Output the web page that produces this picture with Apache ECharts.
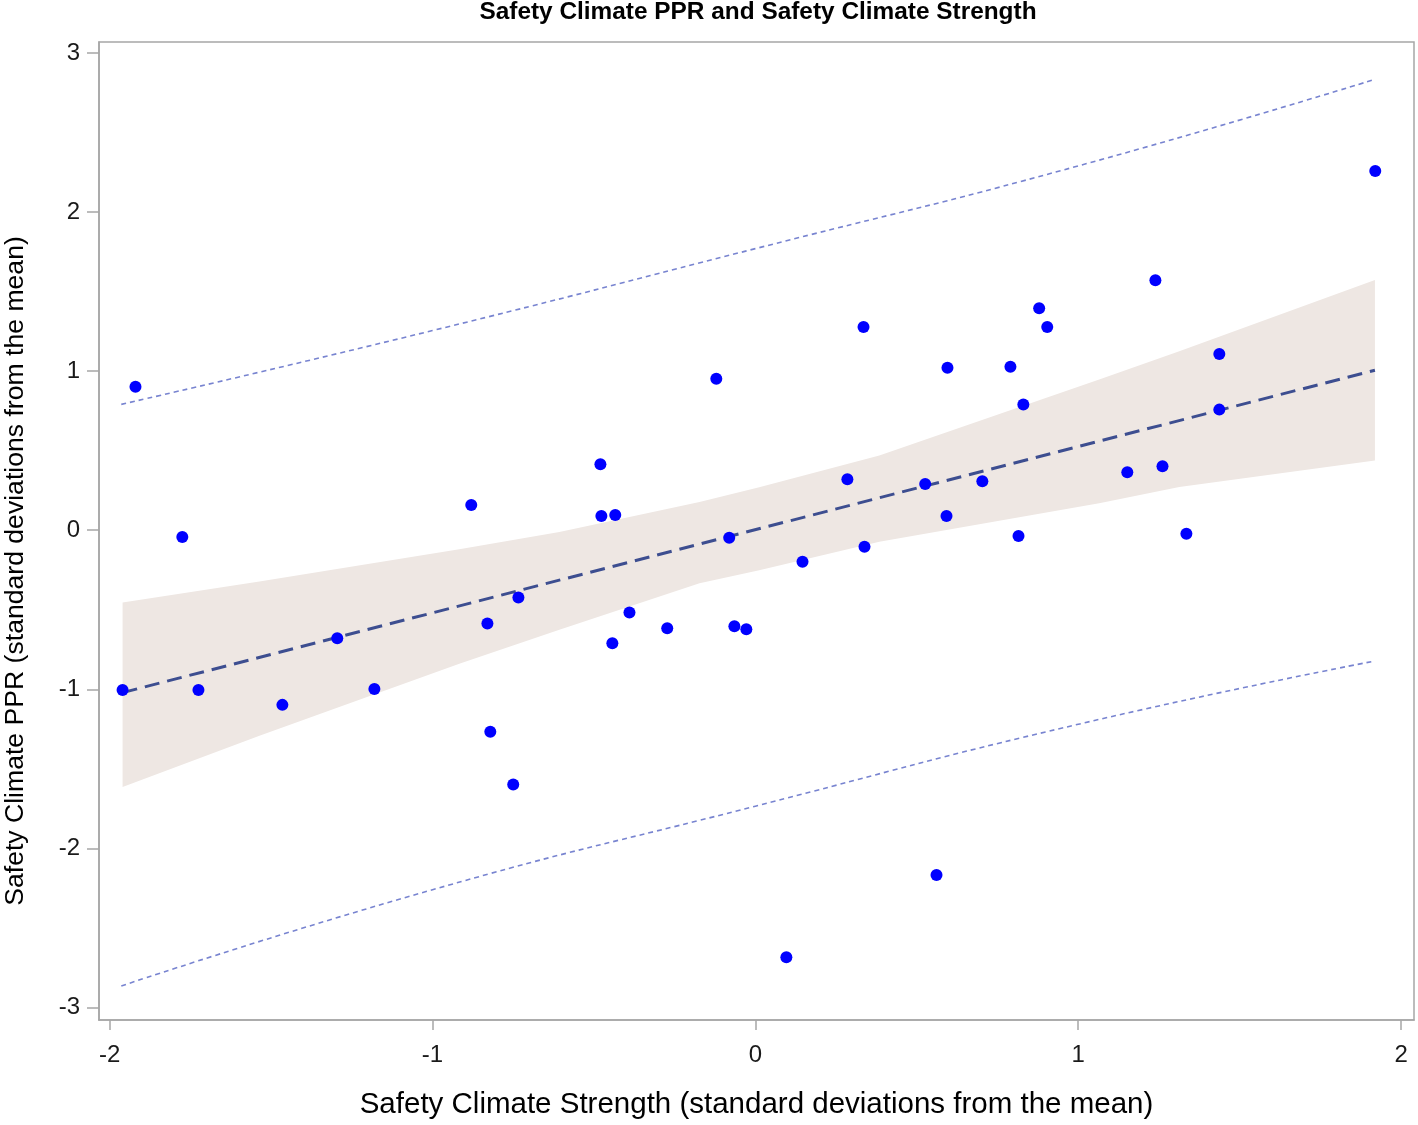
<!DOCTYPE html>
<html>
<head>
<meta charset="utf-8">
<script src="https://cdn.jsdelivr.net/npm/echarts@6/dist/echarts.min.js"></script>
<style>
  html, body { margin: 0; padding: 0; background: #ffffff; }
  #chart { width: 1418px; height: 1125px; }
</style>
</head>
<body>
<div id="chart"></div>
<script>
// ---- Data ----
const pointX = [-1.960, -1.920, -1.775, -1.725, -1.465, -1.295, -1.180, -0.880, -0.830, -0.821,
  -0.750, -0.734, -0.480, -0.477, -0.434, -0.443, -0.390, -0.273, -0.121, -0.081,
  -0.065, -0.028, 0.096, 0.146, 0.285, 0.335, 0.338, 0.526, 0.561, 0.595,
  0.592, 0.703, 0.790, 0.815, 0.830, 0.879, 0.904, 1.152, 1.239, 1.261,
  1.335, 1.437, 1.437, 1.920];
const pointY = [-1.004, 0.902, -0.042, -1.004, -1.098, -0.679, -0.998, 0.158, -0.586, -1.267,
  -1.598, -0.423, 0.414, 0.089, 0.096, -0.711, -0.517, -0.617, 0.952, -0.048,
  -0.604, -0.623, -2.685, -0.198, 0.321, 1.277, -0.104, 0.290, -2.167, 1.021,
  0.090, 0.308, 1.027, -0.036, 0.790, 1.396, 1.277, 0.365, 1.571, 0.402,
  -0.023, 1.108, 0.758, 2.258];

const fitX = [-1.960, 1.919];
const fitY = [-1.021, 1.006];

const bandX     = [-1.960, -1.536, -0.917, -0.607, -0.173, 0.012, 0.384, 1.065, 1.313, 1.919];
const bandLower = [-1.615, -1.292, -0.840, -0.625, -0.334, -0.252, -0.073, 0.170, 0.271, 0.438];
const bandUpper = [-0.455, -0.323, -0.120, -0.011, 0.177, 0.270, 0.469, 0.947, 1.125, 1.573];

const predX     = [-1.964, -1.000, 0.000, 1.000, 1.917];
const predUpper = [0.791, 1.255, 1.770, 2.290, 2.833];
const predLower = [-2.865, -2.260, -1.735, -1.220, -0.823];

const xTicks = [-2, -1, 0, 1, 2];
const yTicks = [-3, -2, -1, 0, 1, 2, 3];

const titleText = 'Safety Climate PPR and Safety Climate Strength';
const xTitle = 'Safety Climate Strength (standard deviations from the mean)';
const yTitle = 'Safety Climate PPR (standard deviations from the mean)';

// ---- Chart ----
const FONT = '"Liberation Sans", Arial, Helvetica, sans-serif';
const AXIS_GRAY = '#a6a6a6';
const chart = echarts.init(document.getElementById('chart'), null, { renderer: 'canvas' });

const zip = (a, b) => a.map((v, i) => [v, b[i]]);

const option = {
  animation: false,
  backgroundColor: '#ffffff',
  textStyle: { fontFamily: FONT },
  title: {
    text: titleText,
    left: 758,
    textAlign: 'center',
    top: 0,
    padding: 0,
    textStyle: { fontFamily: FONT, fontSize: 24.4, fontWeight: 'bold', color: '#000000' }
  },
  grid: {
    left: 99, right: 4, top: 42, bottom: 99,
    show: true, borderColor: AXIS_GRAY, borderWidth: 1.5, backgroundColor: 'transparent'
  },
  xAxis: {
    type: 'value',
    min: -2.033, max: 2.04,
    axisLine: { show: true, onZero: false, lineStyle: { color: AXIS_GRAY, width: 1.5 } },
    axisTick: { show: true, customValues: xTicks, length: 10, lineStyle: { color: AXIS_GRAY, width: 1.5 } },
    axisLabel: { customValues: xTicks, fontSize: 24, color: '#1a1a1a', margin: 23, fontFamily: FONT },
    splitLine: { show: false },
    name: xTitle,
    nameLocation: 'middle',
    nameGap: 70,
    nameTextStyle: { fontSize: 29.5, color: '#000000', fontFamily: FONT }
  },
  yAxis: {
    type: 'value',
    min: -3.079, max: 3.069,
    axisLine: { show: true, onZero: false, lineStyle: { color: AXIS_GRAY, width: 1.5 } },
    axisTick: { show: true, customValues: yTicks, length: 12, lineStyle: { color: AXIS_GRAY, width: 1.5 } },
    axisLabel: { customValues: yTicks, fontSize: 24, color: '#1a1a1a', margin: 19, fontFamily: FONT },
    splitLine: { show: false }
  },
  graphic: [{
    type: 'text',
    x: 16, y: 571,
    rotation: Math.PI / 2,
    style: {
      text: yTitle,
      fontSize: 26.6,
      fontFamily: FONT,
      fill: '#000000',
      align: 'center',
      verticalAlign: 'middle'
    }
  }],
  series: [
    {
      type: 'custom',
      name: 'band',
      silent: true,
      z: 1,
      data: bandX.map((x, i) => [x, bandLower[i], bandUpper[i]]),
      encode: { x: 0, y: [1, 2] },
      renderItem: function (params, api) {
        if (params.dataIndex !== 0) return null;
        const pts = [];
        for (let i = 0; i < bandX.length; i++) pts.push(api.coord([bandX[i], bandUpper[i]]));
        for (let i = bandX.length - 1; i >= 0; i--) pts.push(api.coord([bandX[i], bandLower[i]]));
        return { type: 'polygon', shape: { points: pts, smooth: 0 }, style: { fill: '#eee7e3' } };
      }
    },
    {
      type: 'line', name: 'upper prediction', z: 2, silent: true,
      data: zip(predX, predUpper), showSymbol: false, smooth: true,
      lineStyle: { color: '#7884d0', width: 1.6, type: [5, 4] }
    },
    {
      type: 'line', name: 'lower prediction', z: 2, silent: true,
      data: zip(predX, predLower), showSymbol: false, smooth: true,
      lineStyle: { color: '#7884d0', width: 1.6, type: [5, 4] }
    },
    {
      type: 'line', name: 'fit', z: 3, silent: true,
      data: zip(fitX, fitY), showSymbol: false,
      lineStyle: { color: '#3d4e90', width: 3, type: [15, 8] }
    },
    {
      type: 'scatter', name: 'points', z: 4,
      data: zip(pointX, pointY),
      symbol: 'circle', symbolSize: 12,
      itemStyle: { color: '#0000ff', opacity: 1 }
    }
  ]
};
chart.setOption(option);
</script>
</body>
</html>
